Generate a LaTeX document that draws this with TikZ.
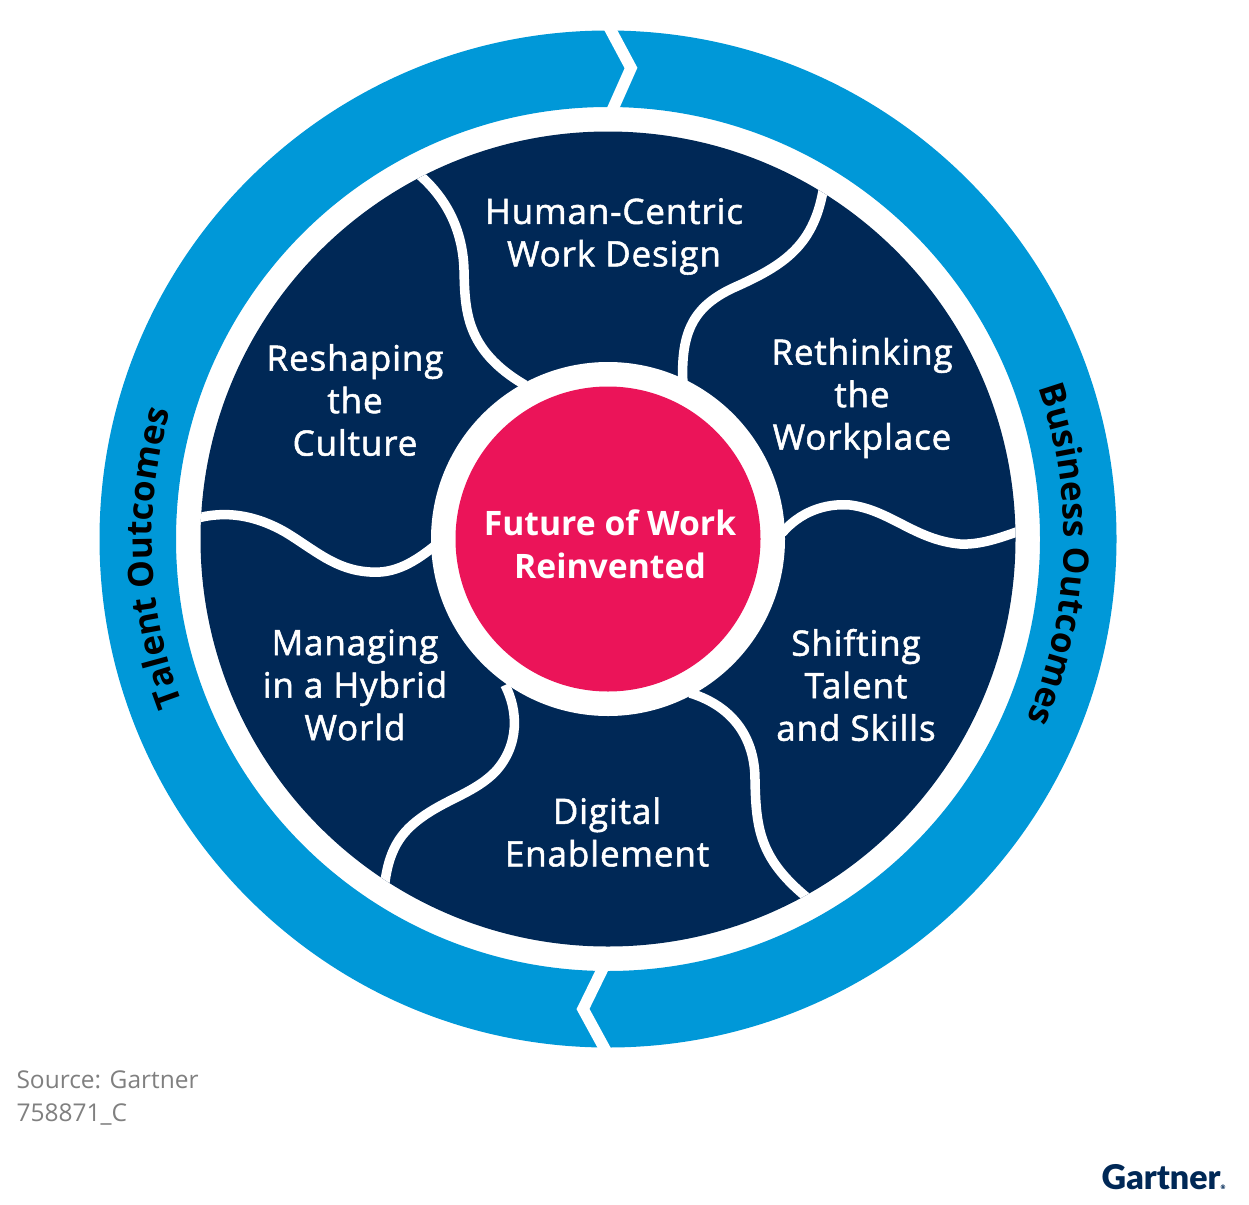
\documentclass[tikz,border=0pt]{standalone}
\usepackage{fontspec}
\setmainfont{Open Sans}
\newfontfamily\medfont[FakeBold=1.5,LetterSpace=2.5]{Open Sans}
\newfontfamily\logofont{Lato Black}
\usetikzlibrary{calc,decorations.text}
\definecolor{ringblue}{HTML}{0098D8}
\definecolor{wheelnavy}{HTML}{002856}
\definecolor{hubpink}{HTML}{EB1459}
\newcommand{\bandfont}{\fontsize{35}{38}\selectfont\bfseries}
\tikzset{
  seam/.style={draw=white,line width=9.5pt},
  notch/.style={draw=white,line width=11.5pt,miter limit=10},
  wheeltext/.style={text=white,font=\fontsize{35}{42.5}\selectfont\medfont,align=center},
  hubtext/.style={text=white,font=\fontsize{33.7}{43}\selectfont\bfseries,align=center},
  notetext/.style={text=black!50,font=\fontsize{24.5}{33.5}\selectfont,align=left,anchor=west}
}
\begin{document}
\begin{tikzpicture}[x=1pt,y=-1pt]
\useasboundingbox (0,0) rectangle (1249,1204);
\coordinate (hub) at (608,539);
% outer band
\fill[ringblue,even odd rule] (hub) circle (508.5) (hub) circle (432);
\draw[notch] (608,25)--(631,68)--(611,113);
\draw[notch] (604,966)--(583,1009)--(607,1053);
% wheel
\fill[wheelnavy] (hub) circle (407.5);
\begin{scope}
\clip (hub) circle (407.5);
\draw[seam] (416,172) .. controls (450,200) and (463,235) .. (464,270) .. controls (465,310) and (465,350) .. (525,385);
\draw[seam] (824,185) .. controls (815,245) and (785,265) .. (733,288) .. controls (695,306) and (680,330) .. (683,385);
\draw[seam] (782,533) .. controls (800,512) and (825,503) .. (850,505) .. controls (890,510) and (915,540) .. (960,544) .. controls (980,545) and (1000,538) .. (1022,530);
\draw[seam] (690,693) .. controls (735,707) and (755,740) .. (755,780) .. controls (756,830) and (760,860) .. (810,900);
\draw[seam] (505,685) .. controls (518,710) and (520,745) .. (495,772) .. controls (475,792) and (450,798) .. (425,815) .. controls (400,832) and (388,850) .. (384,890);
\draw[seam] (194,519) .. controls (225,510) and (255,515) .. (285,532) .. controls (315,550) and (335,570) .. (370,572) .. controls (395,574) and (415,562) .. (437,544);
\end{scope}
% hub
\fill[white] (hub) circle (177);
\node[circle,fill=hubpink,minimum size=305pt,inner sep=0pt] (core) at (608,539) {};
\node[hubtext] (corelabel) at (610,544) {Future of Work\\Reinvented};
% petals
\node[wheeltext] (design) at (614,236.5) {Human-Centric\\Work Design};
\node[wheeltext] (place) at (862,398) {Rethinking\\the\\Workplace};
\node[wheeltext] (talent) at (856,685) {Shifting\\Talent\\and Skills};
\node[wheeltext] (digital) at (607,832) {Digital\\Enablement};
\node[wheeltext] (hybrid) at (355,685) {Managing\\in a Hybrid\\World};
\node[wheeltext] (culture) at (355,400) {Reshaping\\the\\Culture};
% band labels
\path[decorate,decoration={text along path,text align=center,text={|\bandfont|Business Outcomes}}]
  ($(hub)+(-48:456)$) arc[start angle=-48,end angle=52,radius=456];
\path[decorate,decoration={text along path,text align=center,text={|\bandfont|Talent Outcomes}}]
  ($(hub)+(127.6:456)$) arc[start angle=127.6,end angle=227.6,radius=456];
% source
\node[notetext] (source) at (13,1098) {Source: Gartner\\758871\_C};
\node[text=wheelnavy,font=\fontsize{34}{40}\selectfont\logofont,anchor=east] (logo) at (1229,1177) {Gartner{\fontsize{6}{6}\selectfont ®}};
\end{tikzpicture}
\end{document}
